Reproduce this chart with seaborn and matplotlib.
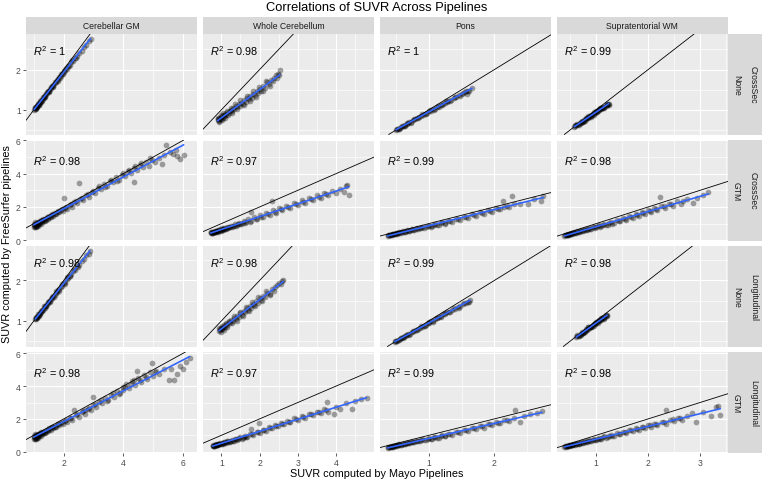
import matplotlib
matplotlib.use("Agg")
import matplotlib.pyplot as plt
from matplotlib.patches import Rectangle
from matplotlib.ticker import FixedLocator
import seaborn as sns
import pandas as pd

# ---------------- data (Mayo SUVR, FreeSurfer SUVR) ----------------
regions = ["Cerebellar GM", "Whole Cerebellum", "Pons", "Supratentorial WM"]
pipelines = ["CrossSec", "CrossSec", "Longitudinal", "Longitudinal"]
methods = ["None", "GTM", "None", "GTM"]
r2_labels = [["1", "0.98", "1", "0.99"],
             ["0.98", "0.97", "0.99", "0.98"],
             ["0.98", "0.98", "0.99", "0.98"],
             ["0.98", "0.97", "0.99", "0.98"]]
col_xticks = [[2, 4, 6], [1, 2, 3, 4], [1, 2], [1, 2, 3]]
row_yticks = [[1, 2], [0, 2, 4, 6], [1, 2], [0, 2, 4, 6]]

cs_none_cgm = [(1.01,1.00),(1.03,1.02),(1.05,1.04),(1.06,1.03),(1.07,1.05),(1.08,1.07),(1.10,1.08),(1.11,1.09),(1.12,1.10),(1.14,1.13),(1.15,1.14),(1.16,1.13),(1.18,1.17),(1.20,1.18),(1.21,1.20),(1.23,1.20),(1.25,1.24),(1.28,1.25),(1.30,1.29),(1.33,1.30),(1.35,1.31),(1.36,1.34),(1.39,1.36),(1.42,1.40),(1.45,1.41),(1.48,1.46),(1.50,1.47),(1.52,1.48),(1.55,1.52),(1.58,1.54),(1.62,1.58),(1.64,1.60),(1.66,1.61),(1.70,1.66),(1.74,1.69),(1.78,1.74),(1.82,1.76),(1.86,1.82),(1.88,1.80),(1.90,1.84),(1.95,1.90),(2.00,1.93),(2.02,1.97),(2.05,1.99),(2.10,2.02),(2.15,2.08),(2.20,2.12),(2.26,2.18),(2.32,2.22),(2.38,2.30),(2.45,2.34),(2.52,2.42),(2.60,2.47),(2.68,2.56),(2.76,2.62),(2.85,2.72),(2.90,2.75),
               (1.04,1.07),(1.09,1.04),(1.13,1.15),(1.17,1.12),(1.22,1.23),(1.26,1.21),(1.32,1.33),(1.38,1.33),(1.44,1.45),(1.50,1.44),(1.57,1.57),(1.63,1.56),(1.72,1.70),(1.80,1.72),(1.92,1.89),(1.98,1.89),(2.08,2.05),(2.18,2.09),(2.29,2.23),(2.40,2.28)]
cs_none_wc = [(0.90,0.74),(0.92,0.78),(0.93,0.72),(0.95,0.80),(0.97,0.76),(0.99,0.82),(1.00,0.77),(1.02,0.85),(1.04,0.80),(1.06,0.87),(1.08,0.84),(1.10,0.90),(1.13,0.86),(1.16,0.95),(1.19,0.92),(1.22,0.97),(1.25,1.00),(1.28,0.96),(1.31,1.05),(1.34,1.02),(1.38,1.10),(1.41,1.06),(1.45,1.14),(1.48,1.09),(1.52,1.18),(1.56,1.15),(1.60,1.24),(1.64,1.19),(1.68,1.30),(1.72,1.26),(1.76,1.35),(1.80,1.30),(1.84,1.40),(1.88,1.37),(1.92,1.47),(1.96,1.42),(2.00,1.52),(2.05,1.48),(2.10,1.58),(2.15,1.55),(2.20,1.68),(2.25,1.63),(2.30,1.75),(2.36,1.72),(2.42,1.86),(2.45,1.80),(2.48,1.90),(2.53,1.98),
              (0.91,0.80),(0.94,0.70),(0.98,0.86),(1.01,0.74),(1.05,0.91),(1.09,0.80),(1.14,0.97),(1.18,0.87),(1.24,1.05),(1.29,0.92),(1.36,1.14),(1.42,1.02),(1.50,1.24),(1.58,1.11),(1.66,1.34),(1.74,1.22),(1.82,1.46),(1.90,1.33),(1.98,1.56),(2.08,1.46),(2.18,1.72),(2.28,1.60),(2.38,1.80),(2.50,1.86)]
cs_none_pons = [(0.50,0.50),(0.52,0.52),(0.54,0.53),(0.56,0.56),(0.58,0.57),(0.60,0.60),(0.62,0.60),(0.64,0.63),(0.66,0.65),(0.68,0.66),(0.70,0.69),(0.73,0.70),(0.76,0.74),(0.79,0.76),(0.82,0.79),(0.85,0.81),(0.88,0.85),(0.91,0.87),(0.94,0.90),(0.97,0.92),(1.00,0.96),(1.03,0.97),(1.06,1.01),(1.09,1.03),(1.12,1.07),(1.15,1.08),(1.18,1.13),(1.21,1.14),(1.24,1.18),(1.27,1.19),(1.30,1.23),(1.34,1.25),(1.38,1.30),(1.42,1.32),(1.46,1.37),(1.50,1.39),(1.52,1.42),(1.55,1.45),(1.58,1.40),(1.60,1.48),(1.66,1.54),
                (0.51,0.53),(0.55,0.53),(0.59,0.60),(0.63,0.61),(0.67,0.68),(0.72,0.68),(0.78,0.78),(0.84,0.79),(0.90,0.89),(0.96,0.90),(1.02,0.99),(1.08,1.00),(1.14,1.10),(1.20,1.12),(1.26,1.21),(1.33,1.23),(1.40,1.33),(1.48,1.35),(1.56,1.46),(1.62,1.47)]
cs_none_swm = [(0.58,0.58),(0.60,0.59),(0.62,0.62),(0.64,0.62),(0.66,0.65),(0.68,0.66),(0.70,0.69),(0.72,0.69),(0.74,0.72),(0.76,0.73),(0.78,0.76),(0.80,0.77),(0.82,0.79),(0.84,0.80),(0.86,0.83),(0.88,0.84),(0.90,0.86),(0.92,0.87),(0.94,0.90),(0.96,0.91),(0.98,0.93),(1.00,0.94),(1.02,0.97),(1.04,0.98),(1.06,1.00),(1.08,1.01),(1.10,1.04),(1.12,1.05),(1.14,1.07),(1.16,1.08),(1.18,1.10),(1.20,1.11),(1.22,1.14),(1.24,1.15),(0.70,0.66),(0.80,0.80),(0.90,0.83),(1.00,0.97),(1.10,1.01),(0.64,0.65),(0.75,0.70),(0.85,0.85),(0.95,0.88),(1.05,1.02),(1.15,1.05),(1.20,1.14),
               (0.60,0.62),(0.66,0.62),(0.72,0.72),(0.78,0.73),(0.84,0.83),(0.90,0.84),(0.96,0.94),(1.02,0.95),(1.08,1.04),(1.14,1.05),(1.20,1.12),(1.24,1.13)]

cs_gtm_cgm = [(1.00,0.80),(1.02,0.95),(1.04,0.85),(1.06,1.00),(1.08,0.78),(1.10,0.92),(1.12,1.05),(1.14,0.88),(1.16,1.10),(1.18,0.98),(1.20,1.15),(1.22,1.02),(1.25,1.20),(1.28,1.08),(1.31,1.25),(1.34,1.15),(1.37,1.30),(1.40,1.22),(1.44,1.38),(1.48,1.30),(1.52,1.45),(1.56,1.38),(1.60,1.52),(1.65,1.48),(1.70,1.62),(1.75,1.55),(1.80,1.70),(1.86,1.68),(1.92,1.82),(1.98,1.75),(2.00,2.53),(2.05,1.95),(2.12,1.88),(2.20,2.10),(2.28,2.02),(2.36,2.30),(2.45,2.22),(2.50,3.47),(2.55,2.48),(2.65,2.40),(2.75,2.70),(2.85,2.60),(2.95,2.90),(3.05,2.82),(3.15,3.15),(3.25,3.05),(3.35,3.38),(3.45,3.28),(3.55,3.55),(3.65,3.48),(3.75,3.78),(3.85,3.62),(3.95,3.95),(4.05,3.88),(4.15,4.15),(4.25,4.02),(4.35,3.51),(4.35,4.35),(4.45,4.20),(4.55,4.50),(4.65,4.38),(4.75,4.68),(4.85,4.45),(4.95,4.82),(5.05,4.70),(5.20,4.95),(5.30,4.60),(5.35,5.10),(5.44,5.75),(5.55,5.30),(5.65,5.20),(5.75,5.45),(5.80,5.05),(5.90,4.90),(6.02,5.10),
              (1.01,0.90),(1.03,0.82),(1.05,1.08),(1.07,0.88),(1.09,1.02),(1.11,0.83),(1.13,0.97),(1.15,1.12),(1.19,1.05),(1.23,0.95),(1.27,1.14),(1.32,1.20),(1.38,1.18),(1.46,1.34),(1.54,1.42),(1.62,1.58),(1.72,1.58),(1.82,1.76),(1.95,1.90),(2.08,2.00),(2.24,2.15),(2.40,2.35),(2.60,2.55),(2.80,2.75),(3.00,2.95),(3.20,3.25),(3.40,3.20),(3.60,3.65),(3.80,3.55),(4.00,4.05),(4.20,4.25),(4.40,4.45),(4.60,4.65),(4.90,4.95)]
cs_gtm_wc = [(0.72,0.43),(0.74,0.49),(0.76,0.45),(0.78,0.52),(0.80,0.48),(0.82,0.55),(0.84,0.51),(0.86,0.58),(0.88,0.54),(0.90,0.62),(0.93,0.58),(0.96,0.66),(0.99,0.62),(1.02,0.71),(1.05,0.66),(1.08,0.76),(1.12,0.70),(1.16,0.81),(1.20,0.78),(1.25,0.88),(1.30,0.83),(1.35,0.95),(1.40,0.92),(1.46,1.06),(1.52,0.99),(1.58,1.14),(1.64,1.07),(1.70,1.25),(1.77,1.70),(1.78,1.16),(1.86,1.38),(1.94,1.28),(2.02,1.54),(2.10,1.41),(2.18,1.66),(2.26,1.52),(2.33,2.33),(2.35,1.80),(2.44,1.66),(2.52,1.92),(2.60,1.82),(2.70,2.08),(2.80,1.95),(2.90,2.25),(3.00,2.10),(3.10,2.40),(3.20,2.24),(3.30,2.55),(3.40,2.40),(3.50,2.70),(3.60,2.55),(3.70,2.85),(3.80,2.70),(3.90,2.98),(4.00,2.82),(4.10,3.10),(4.20,2.90),(4.25,3.28),(4.28,3.30),(4.33,2.74),
             (0.73,0.47),(0.75,0.41),(0.77,0.50),(0.79,0.45),(0.81,0.52),(0.83,0.47),(0.85,0.55),(0.87,0.50),(0.89,0.57),(0.92,0.52),(0.95,0.60),(0.98,0.56),(1.01,0.64),(1.04,0.60),(1.07,0.68),(1.10,0.65),(1.14,0.74),(1.18,0.72),(1.23,0.82),(1.28,0.80),(1.33,0.88),(1.38,0.87),(1.44,0.98),(1.50,0.95),(1.56,1.06),(1.62,1.04),(1.75,1.12),(1.90,1.25),(2.05,1.38),(2.22,1.55),(2.40,1.70),(2.56,1.86),(2.75,2.00),(2.95,2.15),(3.15,2.30),(3.35,2.48),(3.55,2.62),(3.75,2.75)]
cs_gtm_pons = [(0.37,0.27),(0.39,0.32),(0.41,0.31),(0.43,0.36),(0.45,0.35),(0.47,0.40),(0.49,0.38),(0.51,0.44),(0.53,0.42),(0.55,0.48),(0.58,0.47),(0.61,0.54),(0.64,0.52),(0.67,0.60),(0.70,0.58),(0.74,0.66),(0.78,0.64),(0.82,0.73),(0.86,0.71),(0.90,0.80),(0.95,0.78),(1.00,0.88),(1.05,0.85),(1.10,0.97),(1.15,0.93),(1.20,1.07),(1.25,1.02),(1.30,1.18),(1.36,1.12),(1.42,1.30),(1.48,1.24),(1.54,1.42),(1.60,1.36),(1.66,1.55),(1.72,1.48),(1.78,1.68),(1.84,1.60),(1.90,1.82),(1.96,1.72),(2.02,1.93),(2.08,1.88),(2.14,2.37),(2.15,2.02),(2.22,2.00),(2.27,2.64),(2.30,2.18),(2.40,2.20),(2.52,2.16),(2.60,2.45),(2.72,2.33),(2.75,2.64),
               (0.38,0.31),(0.40,0.29),(0.42,0.34),(0.44,0.32),(0.46,0.38),(0.48,0.36),(0.50,0.41),(0.52,0.40),(0.54,0.46),(0.57,0.44),(0.60,0.51),(0.63,0.50),(0.66,0.57),(0.69,0.55),(0.72,0.63),(0.76,0.61),(0.80,0.70),(0.84,0.68),(0.88,0.76),(0.93,0.75),(0.98,0.84),(1.03,0.82),(1.08,0.92),(1.13,0.90),(1.18,1.01),(1.24,0.99),(1.33,1.14),(1.45,1.27),(1.57,1.39),(1.69,1.52),(1.81,1.64),(1.93,1.77),(2.05,1.90),(2.20,2.06)]
cs_gtm_swm = [(0.39,0.27),(0.41,0.32),(0.43,0.30),(0.45,0.36),(0.47,0.34),(0.49,0.39),(0.51,0.37),(0.53,0.43),(0.55,0.41),(0.58,0.48),(0.61,0.45),(0.64,0.53),(0.67,0.50),(0.70,0.59),(0.74,0.56),(0.78,0.66),(0.82,0.63),(0.86,0.74),(0.90,0.70),(0.95,0.82),(1.00,0.77),(1.05,0.90),(1.10,0.85),(1.16,1.00),(1.22,0.94),(1.28,1.10),(1.34,1.03),(1.40,1.22),(1.46,1.13),(1.52,1.33),(1.58,1.24),(1.64,1.45),(1.70,1.35),(1.76,1.57),(1.82,1.46),(1.88,1.70),(1.94,1.58),(2.00,1.80),(2.06,1.70),(2.12,1.92),(2.18,1.82),(2.22,2.58),(2.25,2.04),(2.32,1.92),(2.40,2.18),(2.48,2.05),(2.56,2.35),(2.64,2.20),(2.68,2.33),(2.75,2.45),(2.87,2.22),(2.95,2.55),(3.05,2.70),(3.16,2.90),
              (0.40,0.31),(0.42,0.29),(0.44,0.34),(0.46,0.32),(0.48,0.37),(0.50,0.35),(0.52,0.41),(0.54,0.39),(0.57,0.45),(0.60,0.43),(0.63,0.50),(0.66,0.48),(0.69,0.56),(0.72,0.54),(0.76,0.62),(0.80,0.60),(0.84,0.69),(0.88,0.67),(0.93,0.77),(0.98,0.74),(1.03,0.85),(1.08,0.82),(1.13,0.94),(1.19,0.92),(1.25,1.03),(1.31,1.00),(1.43,1.16),(1.55,1.28),(1.67,1.40),(1.79,1.52),(1.91,1.63),(2.03,1.76),(2.15,1.88),(2.30,2.05),(2.45,2.15)]

lg_none_cgm = [(1.05,1.04),(1.07,1.06),(1.08,1.05),(1.10,1.09),(1.12,1.10),(1.14,1.12),(1.16,1.13),(1.18,1.17),(1.20,1.16),(1.22,1.20),(1.25,1.22),(1.28,1.26),(1.30,1.27),(1.33,1.31),(1.36,1.32),(1.39,1.37),(1.42,1.38),(1.45,1.42),(1.48,1.44),(1.52,1.49),(1.55,1.50),(1.58,1.55),(1.62,1.57),(1.66,1.62),(1.70,1.64),(1.74,1.70),(1.78,1.71),(1.82,1.77),(1.86,1.79),(1.90,1.85),(1.95,1.87),(2.00,1.94),(2.05,1.96),(2.10,2.03),(2.15,2.05),(2.20,2.12),(2.26,2.15),(2.32,2.23),(2.38,2.26),(2.45,2.35),(2.52,2.38),(2.60,2.48),(2.68,2.52),(2.76,2.62),(2.84,2.66),(2.88,2.74),
               (1.06,1.09),(1.11,1.07),(1.15,1.16),(1.19,1.14),(1.24,1.25),(1.29,1.24),(1.35,1.36),(1.41,1.36),(1.47,1.48),(1.53,1.47),(1.60,1.60),(1.67,1.59),(1.76,1.74),(1.84,1.75),(1.93,1.91),(2.03,1.92),(2.12,2.08),(2.22,2.10),(2.34,2.28),(2.48,2.34)]
lg_none_wc = [(0.94,0.76),(0.96,0.80),(0.97,0.77),(0.99,0.83),(1.01,0.79),(1.03,0.86),(1.05,0.82),(1.07,0.89),(1.10,0.85),(1.13,0.93),(1.16,0.89),(1.19,0.97),(1.22,0.94),(1.26,1.02),(1.30,0.99),(1.34,1.08),(1.38,1.04),(1.42,1.13),(1.46,1.10),(1.50,1.19),(1.54,1.15),(1.58,1.25),(1.62,1.21),(1.66,1.31),(1.70,1.27),(1.74,1.37),(1.78,1.33),(1.82,1.43),(1.86,1.39),(1.90,1.49),(1.95,1.45),(2.00,1.56),(2.05,1.52),(2.10,1.62),(2.15,1.59),(2.20,1.70),(2.26,1.66),(2.32,1.78),(2.38,1.75),(2.45,1.88),(2.52,1.94),(2.58,1.98),(2.62,2.02),
              (0.95,0.82),(0.98,0.73),(1.02,0.88),(1.06,0.78),(1.11,0.94),(1.15,0.84),(1.21,1.00),(1.27,0.95),(1.33,1.12),(1.40,1.01),(1.48,1.22),(1.56,1.12),(1.64,1.34),(1.72,1.24),(1.80,1.47),(1.88,1.36),(1.97,1.58),(2.07,1.49),(2.17,1.73),(2.28,1.63),(2.40,1.84),(2.55,1.92)]
lg_none_pons = [(0.48,0.48),(0.50,0.50),(0.52,0.51),(0.54,0.54),(0.56,0.55),(0.58,0.58),(0.60,0.58),(0.62,0.61),(0.64,0.63),(0.66,0.64),(0.68,0.67),(0.71,0.68),(0.74,0.72),(0.77,0.74),(0.80,0.77),(0.83,0.79),(0.86,0.83),(0.89,0.85),(0.92,0.88),(0.95,0.90),(0.98,0.94),(1.01,0.95),(1.04,0.99),(1.07,1.01),(1.10,1.05),(1.13,1.06),(1.16,1.10),(1.19,1.12),(1.22,1.16),(1.25,1.17),(1.28,1.21),(1.32,1.23),(1.36,1.28),(1.40,1.30),(1.44,1.35),(1.48,1.37),(1.52,1.42),(1.56,1.44),(1.60,1.48),(1.63,1.52),
                (0.49,0.51),(0.53,0.52),(0.57,0.58),(0.61,0.59),(0.65,0.66),(0.70,0.66),(0.76,0.76),(0.82,0.77),(0.88,0.87),(0.94,0.88),(1.00,0.97),(1.06,0.98),(1.12,1.08),(1.18,1.10),(1.24,1.19),(1.31,1.21),(1.38,1.31),(1.46,1.33),(1.54,1.44),(1.61,1.46)]
lg_none_swm = [(0.62,0.60),(0.64,0.62),(0.66,0.63),(0.68,0.66),(0.70,0.67),(0.72,0.70),(0.74,0.70),(0.76,0.73),(0.78,0.74),(0.80,0.77),(0.82,0.78),(0.84,0.81),(0.86,0.82),(0.88,0.85),(0.90,0.86),(0.92,0.88),(0.94,0.89),(0.96,0.92),(0.98,0.93),(1.00,0.96),(1.02,0.97),(1.04,0.99),(1.06,1.00),(1.08,1.03),(1.10,1.04),(1.12,1.06),(1.14,1.07),(1.16,1.10),(1.18,1.12),(1.20,1.15),(0.70,0.65),(0.80,0.80),(0.90,0.84),(1.00,0.98),(1.10,1.02),(0.75,0.69),(0.85,0.84),(0.95,0.88),(1.05,1.02),(1.15,1.06),
               (0.63,0.64),(0.67,0.62),(0.73,0.73),(0.79,0.72),(0.85,0.85),(0.91,0.84),(0.97,0.95),(1.03,0.94),(1.09,1.06),(1.15,1.04),(1.19,1.14),(1.21,1.12)]

lg_gtm_cgm = [(1.00,0.78),(1.02,0.95),(1.04,0.84),(1.06,1.00),(1.08,0.76),(1.10,0.92),(1.12,1.04),(1.14,0.86),(1.16,1.08),(1.18,0.96),(1.20,1.12),(1.22,1.00),(1.25,1.18),(1.28,1.06),(1.31,1.22),(1.34,1.12),(1.37,1.28),(1.40,1.20),(1.44,1.35),(1.48,1.28),(1.52,1.42),(1.56,1.35),(1.60,1.50),(1.65,1.44),(1.70,1.58),(1.75,1.52),(1.80,1.66),(1.86,1.62),(1.92,1.76),(1.98,1.70),(2.05,1.90),(2.12,1.82),(2.20,2.05),(2.28,1.96),(2.36,2.55),(2.40,2.22),(2.50,2.12),(2.60,2.40),(2.70,2.55),(2.70,2.32),(2.80,2.62),(2.90,2.52),(3.00,2.85),(3.00,3.35),(3.10,2.75),(3.20,3.05),(3.30,2.98),(3.40,3.25),(3.50,3.15),(3.60,3.48),(3.70,3.35),(3.80,3.70),(3.90,3.55),(4.00,3.95),(4.00,3.75),(4.10,4.15),(4.20,3.90),(4.30,4.30),(4.40,4.05),(4.45,4.95),(4.50,4.50),(4.60,4.25),(4.70,4.70),(4.80,4.45),(4.90,4.85),(4.96,5.39),(5.00,4.60),(5.10,4.95),(5.20,4.75),(5.35,5.05),(5.52,4.40),(5.60,5.05),(5.69,4.36),(5.80,4.75),(5.90,5.20),(6.00,5.02),(6.10,5.50),(6.22,5.74),
              (1.01,0.88),(1.03,0.80),(1.05,1.06),(1.07,0.86),(1.09,1.00),(1.11,0.81),(1.13,0.95),(1.15,1.10),(1.19,1.02),(1.23,0.93),(1.27,1.12),(1.32,1.17),(1.38,1.15),(1.46,1.30),(1.54,1.38),(1.62,1.52),(1.72,1.52),(1.82,1.70),(1.95,1.83),(2.08,1.94),(2.24,2.08),(2.45,2.28),(2.65,2.48),(2.85,2.68),(3.05,2.90),(3.25,3.15),(3.45,3.10),(3.65,3.55),(3.85,3.50),(4.05,3.92),(4.25,4.10),(4.35,4.40),(4.55,4.35),(4.75,4.55),(5.05,4.85)]
lg_gtm_wc = [(0.77,0.33),(0.79,0.39),(0.81,0.35),(0.83,0.42),(0.85,0.38),(0.87,0.45),(0.89,0.41),(0.91,0.48),(0.94,0.44),(0.97,0.52),(1.00,0.48),(1.03,0.56),(1.06,0.52),(1.10,0.61),(1.14,0.57),(1.18,0.66),(1.22,0.62),(1.27,0.72),(1.32,0.68),(1.38,0.80),(1.44,0.75),(1.50,0.88),(1.56,0.84),(1.62,0.98),(1.68,0.92),(1.77,1.38),(1.76,1.06),(1.84,1.00),(1.92,1.20),(1.98,1.75),(2.00,1.15),(2.08,1.35),(2.16,1.28),(2.24,1.52),(2.32,1.42),(2.40,1.64),(2.48,1.55),(2.56,1.78),(2.64,1.66),(2.72,1.90),(2.80,1.80),(2.90,2.05),(3.00,1.92),(3.10,2.18),(3.20,2.05),(3.30,2.30),(3.40,2.22),(3.50,2.45),(3.60,2.35),(3.77,3.02),(3.70,2.58),(3.80,2.45),(3.94,2.30),(4.00,2.75),(4.10,2.60),(4.25,2.95),(4.42,2.61),(4.50,3.12),(4.65,3.20),(4.80,3.27),
             (0.78,0.37),(0.80,0.33),(0.82,0.40),(0.84,0.36),(0.86,0.43),(0.88,0.39),(0.90,0.46),(0.92,0.42),(0.95,0.49),(0.98,0.46),(1.01,0.53),(1.04,0.50),(1.08,0.58),(1.12,0.55),(1.16,0.63),(1.20,0.60),(1.25,0.68),(1.30,0.66),(1.35,0.75),(1.41,0.73),(1.47,0.83),(1.53,0.80),(1.59,0.92),(1.65,0.88),(1.80,1.05),(1.96,1.18),(2.12,1.30),(2.28,1.45),(2.44,1.58),(2.60,1.72),(2.76,1.84),(2.95,1.98),(3.15,2.12),(3.35,2.28),(3.55,2.40),(3.75,2.52)]
lg_gtm_pons = [(0.37,0.24),(0.39,0.29),(0.41,0.27),(0.43,0.32),(0.45,0.31),(0.47,0.36),(0.49,0.34),(0.51,0.40),(0.53,0.38),(0.55,0.44),(0.58,0.43),(0.61,0.50),(0.64,0.48),(0.67,0.55),(0.70,0.53),(0.74,0.62),(0.78,0.59),(0.82,0.68),(0.86,0.66),(0.90,0.75),(0.95,0.72),(1.00,0.82),(1.05,0.79),(1.10,0.90),(1.15,0.86),(1.20,0.99),(1.25,0.94),(1.30,1.09),(1.36,1.04),(1.42,1.20),(1.48,1.14),(1.54,1.31),(1.60,1.25),(1.66,1.43),(1.72,1.36),(1.78,1.55),(1.84,1.47),(1.90,1.68),(1.96,1.60),(2.02,1.80),(2.08,1.74),(2.15,1.92),(2.22,1.88),(2.32,2.55),(2.30,2.04),(2.40,1.83),(2.45,2.18),(2.55,2.30),(2.65,2.36),(2.73,2.50),
               (0.38,0.28),(0.40,0.26),(0.42,0.31),(0.44,0.29),(0.46,0.35),(0.48,0.33),(0.50,0.38),(0.52,0.37),(0.54,0.43),(0.57,0.41),(0.60,0.48),(0.63,0.47),(0.66,0.53),(0.69,0.52),(0.72,0.59),(0.76,0.58),(0.80,0.66),(0.84,0.64),(0.88,0.72),(0.93,0.71),(0.98,0.79),(1.03,0.77),(1.08,0.87),(1.13,0.85),(1.18,0.95),(1.24,0.93),(1.33,1.07),(1.45,1.19),(1.57,1.31),(1.69,1.43),(1.81,1.54),(1.93,1.66),(2.05,1.78),(2.20,1.95)]
lg_gtm_swm = [(0.39,0.29),(0.41,0.34),(0.43,0.32),(0.45,0.37),(0.47,0.35),(0.49,0.40),(0.51,0.38),(0.53,0.43),(0.55,0.41),(0.58,0.47),(0.61,0.45),(0.64,0.52),(0.67,0.49),(0.70,0.57),(0.74,0.54),(0.78,0.63),(0.82,0.60),(0.86,0.70),(0.90,0.66),(0.95,0.77),(1.00,0.72),(1.05,0.84),(1.10,0.79),(1.16,0.93),(1.22,0.87),(1.28,1.02),(1.34,0.96),(1.40,1.12),(1.46,1.05),(1.52,1.22),(1.58,1.14),(1.64,1.32),(1.70,1.24),(1.76,1.42),(1.82,1.33),(1.88,1.52),(1.94,1.43),(2.00,1.62),(2.06,1.53),(2.12,1.72),(2.18,1.62),(2.26,1.80),(2.35,2.57),(2.34,1.72),(2.42,1.92),(2.50,1.85),(2.58,2.05),(2.66,1.96),(2.75,2.20),(2.85,2.35),(2.93,1.83),(3.05,2.45),(3.22,2.16),(3.30,2.70),(3.39,2.24),(3.35,2.80),
              (0.40,0.33),(0.42,0.31),(0.44,0.35),(0.46,0.33),(0.48,0.38),(0.50,0.36),(0.52,0.41),(0.54,0.39),(0.57,0.44),(0.60,0.42),(0.63,0.49),(0.66,0.47),(0.69,0.54),(0.72,0.52),(0.76,0.59),(0.80,0.57),(0.84,0.65),(0.88,0.63),(0.93,0.72),(0.98,0.70),(1.03,0.79),(1.08,0.77),(1.13,0.88),(1.19,0.85),(1.25,0.96),(1.31,0.93),(1.43,1.08),(1.55,1.19),(1.67,1.30),(1.79,1.40),(1.91,1.50),(2.03,1.60),(2.15,1.70),(2.30,1.82),(2.48,1.98),(2.62,2.08)]

panel_data = [[cs_none_cgm, cs_none_wc, cs_none_pons, cs_none_swm],
              [cs_gtm_cgm, cs_gtm_wc, cs_gtm_pons, cs_gtm_swm],
              [lg_none_cgm, lg_none_wc, lg_none_pons, lg_none_swm],
              [lg_gtm_cgm, lg_gtm_wc, lg_gtm_pons, lg_gtm_swm]]

# ---------------- style ----------------
sns.set_theme(style="darkgrid", rc={"axes.facecolor": "#EBEBEB", "grid.color": "white",
                                    "axes.edgecolor": "none"})
plt.rcParams["font.family"] = ["Liberation Sans", "DejaVu Sans"]
plt.rcParams["mathtext.fontset"] = "custom"
plt.rcParams["mathtext.rm"] = "Liberation Sans"
plt.rcParams["mathtext.it"] = "Liberation Sans:italic"

W, H = 762, 481
fig = plt.figure(figsize=(W / 100, H / 100), dpi=100)
fig.patch.set_facecolor("white")

col_left = [26, 202.9, 379.8, 556.7]
pw = 171.4
row_top = [35, 141, 247, 353]
ph = 100.5
r2_y = [0.835, 0.80, 0.835, 0.80]

axes = [[None] * 4 for _ in range(4)]
for r in range(4):
    for c in range(4):
        kw = {}
        if r > 0:
            kw["sharex"] = axes[0][c]
        if c > 0:
            kw["sharey"] = axes[r][0]
        ax = fig.add_axes([col_left[c] / W, 1 - (row_top[r] + ph) / H, pw / W, ph / H], **kw)
        axes[r][c] = ax
        df = pd.DataFrame(panel_data[r][c], columns=["mayo", "fs"])
        sns.scatterplot(data=df, x="mayo", y="fs", ax=ax, color="black", alpha=0.35,
                        s=17, linewidth=0, zorder=2)
        # identity line (y = x); anchored at a point inside every panel's data range
        ax.axline((1, 1), slope=1, color="black", lw=0.6, zorder=3)
        sns.regplot(data=df, x="mayo", y="fs", ax=ax, scatter=False, ci=None, truncate=True,
                    color="#3366FF", line_kws={"lw": 1.2, "zorder": 4})
        ax.set_xlabel("")
        ax.set_ylabel("")
        ax.text(0.043, r2_y[r], r"$R^2$ = " + r2_labels[r][c], transform=ax.transAxes,
                ha="left", va="center", fontsize=7.8, color="black", zorder=5)
        for s in ax.spines.values():
            s.set_visible(False)

def minors(ticks):
    step = ticks[1] - ticks[0]
    return [t - step / 2 for t in ticks] + [ticks[-1] + step / 2]

for r in range(4):
    for c in range(4):
        ax = axes[r][c]
        ax.xaxis.set_major_locator(FixedLocator(col_xticks[c]))
        ax.xaxis.set_minor_locator(FixedLocator(minors(col_xticks[c])))
        ax.yaxis.set_major_locator(FixedLocator(row_yticks[r]))
        ax.yaxis.set_minor_locator(FixedLocator(minors(row_yticks[r])))
        ax.grid(which="major", color="white", lw=0.85)
        ax.grid(which="minor", color="white", lw=0.45)
        ax.set_axisbelow(True)
        ax.tick_params(which="minor", length=0)
        ax.tick_params(which="major", length=2.2, width=0.55, color="#333333",
                       labelsize=6.2, labelcolor="#4D4D4D", pad=1.5)
        ax.tick_params(axis="x", bottom=(r == 3), labelbottom=(r == 3))
        ax.tick_params(axis="y", left=(c == 0), labelleft=(c == 0))

# strips
strip_col = "#D9D9D9"
for c in range(4):
    fig.add_artist(Rectangle((col_left[c] / W, 1 - 35 / H), pw / W, 17.5 / H,
                             transform=fig.transFigure, facecolor=strip_col, edgecolor="none"))
    fig.text((col_left[c] + pw / 2) / W, 1 - 26.5 / H, regions[c], ha="center", va="center",
             fontsize=6.2, color="#1A1A1A")
x_end = col_left[3] + pw
sw = (W - x_end) / 2
for r in range(4):
    fig.add_artist(Rectangle((x_end / W, 1 - (row_top[r] + ph) / H), 2 * sw / W, ph / H,
                             transform=fig.transFigure, facecolor=strip_col, edgecolor="none"))
    yc = 1 - (row_top[r] + ph / 2) / H
    fig.text((x_end + sw / 2) / W, yc, methods[r], rotation=-90, ha="center", va="center",
             fontsize=6.2, color="#1A1A1A")
    fig.text((x_end + 1.5 * sw) / W, yc, pipelines[r], rotation=-90, ha="center", va="center",
             fontsize=6.2, color="#1A1A1A")

fig.text(377 / W, 1 - 8.5 / H, "Correlations of SUVR Across Pipelines", ha="center",
         va="center", fontsize=9.3, color="black")
fig.text(377 / W, 1 - 474 / H, "SUVR computed by Mayo Pipelines", ha="center", va="center",
         fontsize=7.8, color="black")
fig.text(7 / W, 1 - 244 / H, "SUVR computed by FreeSurfer pipelines", ha="center",
         va="center", rotation=90, fontsize=7.8, color="black")

fig.savefig("out.png", dpi=100)
